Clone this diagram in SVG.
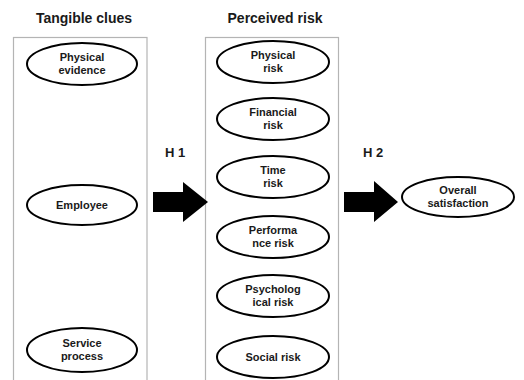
<svg xmlns="http://www.w3.org/2000/svg" width="524" height="380" viewBox="0 0 524 380">
  <style>
    .panel { fill: #ffffff; stroke: #b4b4b4; stroke-width: 1.2; }
    .title { font-family: "Liberation Sans", Arial, sans-serif; font-weight: bold; font-size: 14px; fill: #1a1a1a; text-anchor: middle; }
    .hyp { font-family: "Liberation Sans", Arial, sans-serif; font-weight: bold; font-size: 13px; fill: #1a1a1a; text-anchor: middle; }
    .node ellipse { fill: #ffffff; stroke: #000000; stroke-width: 2; }
    .node text { font-family: "Liberation Sans", Arial, sans-serif; font-weight: bold; font-size: 11px; fill: #1a1a1a; text-anchor: middle; }
    .arrow { fill: #000000; }
  </style>

  <rect width="524" height="380" fill="#ffffff"/>

  <!-- column titles -->
  <text class="title" x="84" y="23">Tangible clues</text>
  <text class="title" x="275" y="23">Perceived risk</text>

  <!-- column panels (bottom edge runs off the canvas) -->
  <rect class="panel" x="13.5" y="37.5" width="133.5" height="350"/>
  <rect class="panel" x="205.5" y="37.5" width="133" height="350"/>

  <!-- hypothesis labels -->
  <text class="hyp" x="175" y="157">H 1</text>
  <text class="hyp" x="373" y="157">H 2</text>

  <!-- tangible clues -->
  <g id="physical-evidence" class="node">
    <ellipse cx="82" cy="64" rx="55" ry="21"/>
    <text x="82" y="61">Physical</text>
    <text x="82" y="74">evidence</text>
  </g>
  <g id="employee" class="node">
    <ellipse cx="82" cy="205" rx="55" ry="20"/>
    <text x="82" y="209">Employee</text>
  </g>
  <g id="service-process" class="node">
    <ellipse cx="82" cy="350" rx="55" ry="22"/>
    <text x="82" y="347">Service</text>
    <text x="82" y="360">process</text>
  </g>

  <!-- perceived risk -->
  <g id="physical-risk" class="node">
    <ellipse cx="273" cy="62" rx="56" ry="21"/>
    <text x="273" y="59">Physical</text>
    <text x="273" y="72">risk</text>
  </g>
  <g id="financial-risk" class="node">
    <ellipse cx="273" cy="119" rx="56" ry="21"/>
    <text x="273" y="116">Financial</text>
    <text x="273" y="129">risk</text>
  </g>
  <g id="time-risk" class="node">
    <ellipse cx="273" cy="177" rx="56" ry="21"/>
    <text x="273" y="174">Time</text>
    <text x="273" y="187">risk</text>
  </g>
  <g id="performance-risk" class="node">
    <ellipse cx="273" cy="237" rx="56" ry="21"/>
    <text x="273" y="234">Performa</text>
    <text x="273" y="247">nce risk</text>
  </g>
  <g id="psychological-risk" class="node">
    <ellipse cx="273" cy="296" rx="56" ry="21"/>
    <text x="273" y="293">Psycholog</text>
    <text x="273" y="306">ical risk</text>
  </g>
  <g id="social-risk" class="node">
    <ellipse cx="273" cy="357" rx="56" ry="21"/>
    <text x="273" y="361">Social risk</text>
  </g>

  <!-- outcome -->
  <g id="overall-satisfaction" class="node">
    <ellipse cx="458" cy="197" rx="56" ry="20"/>
    <text x="458" y="194">Overall</text>
    <text x="458" y="207">satisfaction</text>
  </g>

  <!-- block arrows between stages -->
  <g id="connectors">
    <polygon id="h1-arrow" class="arrow" points="153,192 183,192 183,182 208,202 183,222 183,212 153,212"/>
    <polygon id="h2-arrow" class="arrow" points="344,192 374,192 374,181 398,202 374,222 374,212 344,212"/>
  </g>
</svg>
